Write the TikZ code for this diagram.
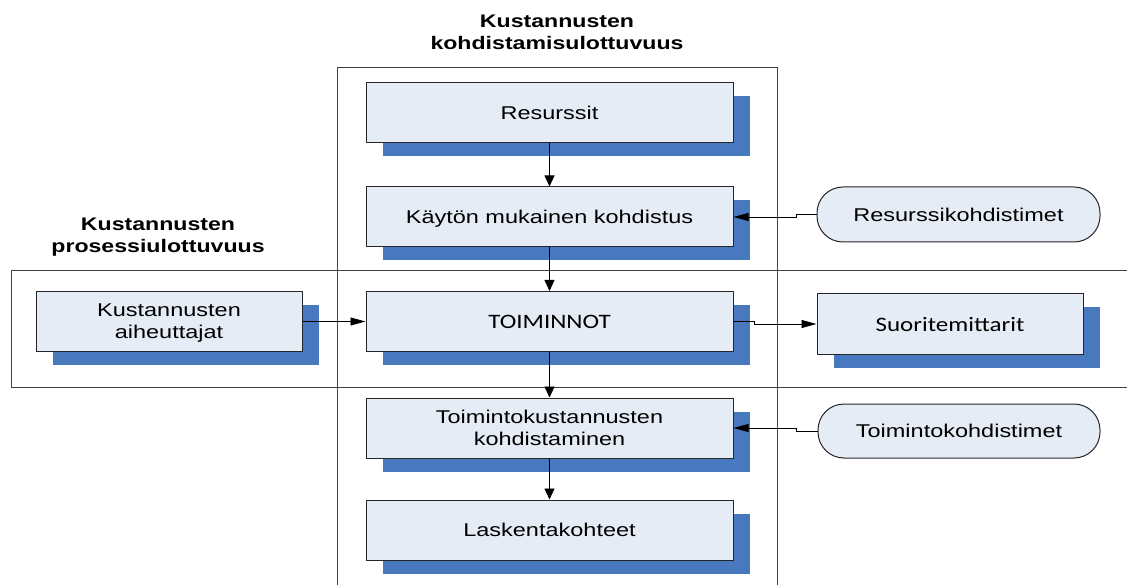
\documentclass[tikz,border=0pt]{standalone}
\usepackage{fontspec}
\setmainfont{Liberation Sans}[FakeStretch=1.27]
\newfontfamily\calfont{Carlito}[FakeStretch=1.22]
\usetikzlibrary{arrows.meta,shadows}
\definecolor{boxfill}{RGB}{230,236,246}
\definecolor{shadowblue}{RGB}{72,121,191}
\definecolor{bandline}{RGB}{64,64,64}
\definecolor{boxline}{RGB}{38,38,38}
\tikzset{
  txt/.style={font=\fontsize{18.5}{22}\selectfont, align=center, text depth=0pt},
  title/.style={txt, font=\fontsize{18.2}{22}\selectfont\bfseries, inner sep=0pt},
  stepbox/.style={txt, draw=boxline, line width=1pt, fill=boxfill,
    minimum width=367pt, minimum height=60pt, inner sep=0pt,
    general shadow={fill=shadowblue, shadow xshift=16.5pt, shadow yshift=-13.5pt}},
  driver/.style={txt, draw=boxline, line width=1pt, fill=boxfill,
    minimum height=55pt, inner sep=0pt, rounded corners=26pt},
  band/.style={draw=bandline, line width=1pt},
  vflow/.style={line width=0.9pt, -{Triangle[length=11pt,width=10pt]}},
  hflow/.style={line width=0.9pt, -{Triangle[length=15pt,width=8pt]}},
}
\begin{document}
\begin{tikzpicture}[x=1pt,y=-1pt]
\useasboundingbox (0,0) rectangle (1127,585);
\clip (0,0) rectangle (1127,585);

% the two dimensions as open frames
\draw[band] (337.5,67.5) rectangle (777.5,620);
\draw[band] (11,271) rectangle (1160,387);

% titles
\node[title] (tcol) at (557,32.5) {Kustannusten\\kohdistamisulottuvuus};
\node[title] (trow) at (158,235.5) {Kustannusten\\prosessiulottuvuus};

% central column
\node[stepbox] (res)  at (549.5,113)   {Resurssit};
\node[stepbox] (kay)  at (549.5,217)   {Käytön mukainen kohdistus};
\node[stepbox, font=\calfont\fontsize{20.5}{24}\selectfont] (toim) at (549.5,321.5) {TOIMINNOT};
\node[stepbox] (tkk)  at (549.5,428)   {Toimintokustannusten\\kohdistaminen};
\node[stepbox] (lask) at (549.5,530)   {Laskentakohteet};

% side boxes
\node[stepbox, minimum width=266pt, minimum height=59pt] (aih) at (169,321.5) {Kustannusten\\aiheuttajat};
\node[stepbox, minimum width=266pt, font=\calfont\fontsize{20.5}{24}\selectfont] (suor) at (950,324) {Suoritemittarit};
\node[driver, minimum width=283pt] (rk) at (958.5,214.5) {Resurssikohdistimet};
\node[driver, minimum width=282pt, minimum height=54pt] (tk) at (959,431) {Toimintokohdistimet};

% flows
\draw[vflow] (res.south) -- (kay.north);
\draw[vflow] (kay.south) -- (toim.north);
\draw[vflow] (toim.south) -- (tkk.north);
\draw[vflow] (tkk.south) -- (lask.north);
\draw[hflow] (aih.east) -- (toim.west);
\draw[hflow] (toim.east) -- ++(21,0) |- (suor.west);
\draw[hflow] (rk.west) -- ++(-20,0) |- (kay.east);
\draw[hflow] (tk.west) -- ++(-21,0) |- (tkk.east);
\end{tikzpicture}
\end{document}
